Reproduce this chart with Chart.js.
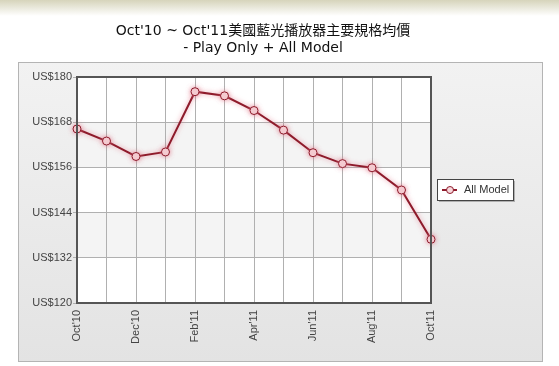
<!DOCTYPE html>
<html>
<head>
<meta charset="utf-8">
<script src="https://cdn.jsdelivr.net/npm/chart.js@4.4.0/dist/chart.umd.min.js"></script>
<style>
  html, body { margin: 0; padding: 0; background: #fff; }
  #wrap { position: relative; width: 559px; height: 366px; }
</style>
</head>
<body>
<div id="wrap"><canvas id="myChart" width="559" height="366"></canvas></div>
<script>
// Données du graphique
const mois = ["Oct'10", "Nov'10", "Dec'10", "Jan'11", "Feb'11", "Mar'11", "Apr'11",
              "May'11", "Jun'11", "Jul'11", "Aug'11", "Sep'11", "Oct'11"];
const prixMoyen = [166.2, 163.0, 158.9, 160.1, 176.1, 175.0, 171.1,
                   165.9, 159.9, 157.0, 155.9, 150.0, 136.9];
const nomSerie = 'All Model';
const titre = ["Oct'10 ~ Oct'11美國藍光播放器主要規格均價", '- Play Only + All Model'];
const yMin = 120, yMax = 180, yPas = 12;

const rouge = '#8e1b2b';
const rose = '#f7d8dc';

// Fond de page, panneau gris, bandes de la zone de tracé, titre
const fondPlugin = {
  id: 'fond',
  beforeDraw(chart) {
    const ctx = chart.ctx;
    const ca = chart.chartArea;
    ctx.save();
    let g = ctx.createLinearGradient(0, 0, 0, 16);
    g.addColorStop(0, '#d6d4bb');
    g.addColorStop(1, '#ffffff');
    ctx.fillStyle = g;
    ctx.fillRect(0, 0, 559, 16);

    // Titre
    ctx.fillStyle = '#111111';
    ctx.font = '14px "DejaVu Sans", "Noto Sans CJK TC", sans-serif';
    ctx.textAlign = 'center';
    ctx.textBaseline = 'middle';
    ctx.fillText(titre[0], 263, 31);
    ctx.fillText(titre[1], 263, 48);

    g = ctx.createLinearGradient(0, 62, 0, 362);
    g.addColorStop(0, '#f2f2f2');
    g.addColorStop(1, '#e3e3e3');
    ctx.fillStyle = g;
    ctx.fillRect(18.5, 62.5, 524, 299);
    ctx.strokeStyle = '#b4b4b4';
    ctx.lineWidth = 1;
    ctx.strokeRect(18.5, 62.5, 524, 299);

    const y = chart.scales.y;
    ctx.fillStyle = '#ffffff';
    ctx.fillRect(ca.left, ca.top, ca.right - ca.left, ca.bottom - ca.top);
    let i = 0;
    for (let v = yMax; v > yMin; v -= yPas) {
      if (i % 2 === 1) {
        const y1 = y.getPixelForValue(v), y2 = y.getPixelForValue(v - yPas);
        ctx.fillStyle = '#f4f4f4';
        ctx.fillRect(ca.left, y1, ca.right - ca.left, y2 - y1);
      }
      i++;
    }
    ctx.restore();
  },
  afterDatasetsDraw(chart) {
    const ctx = chart.ctx;
    const ca = chart.chartArea;
    ctx.save();
    ctx.strokeStyle = '#555555';
    ctx.lineWidth = 2;
    ctx.strokeRect(ca.left, ca.top, ca.right - ca.left, ca.bottom - ca.top);

    // Légende
    const lx = 437, ly = 179, lw = 76, lh = 21;
    ctx.fillStyle = 'rgba(0,0,0,0.25)';
    ctx.fillRect(lx + 2, ly + 2, lw, lh);
    ctx.fillStyle = '#ffffff';
    ctx.fillRect(lx, ly, lw, lh);
    ctx.strokeStyle = '#444444';
    ctx.lineWidth = 1;
    ctx.strokeRect(lx + 0.5, ly + 0.5, lw, lh);
    const my = ly + lh / 2 + 0.5;
    ctx.strokeStyle = rouge;
    ctx.lineWidth = 2;
    ctx.beginPath();
    ctx.moveTo(lx + 5, my);
    ctx.lineTo(lx + 20, my);
    ctx.stroke();
    ctx.fillStyle = rose;
    ctx.lineWidth = 1;
    ctx.beginPath();
    ctx.arc(lx + 13, my, 3.5, 0, Math.PI * 2);
    ctx.fill();
    ctx.stroke();
    ctx.fillStyle = '#333333';
    ctx.font = '11px "Liberation Sans", Arial, sans-serif';
    ctx.textBaseline = 'middle';
    ctx.fillText(nomSerie, lx + 27, my);
    ctx.restore();
  }
};

// Ombre rosée sous la courbe
const ombrePlugin = {
  id: 'ombre',
  beforeDatasetDraw(chart) {
    const ctx = chart.ctx;
    ctx.save();
    ctx.shadowColor = 'rgba(225,110,130,0.7)';
    ctx.shadowBlur = 5;
  },
  afterDatasetDraw(chart) {
    chart.ctx.restore();
  }
};

const ctx = document.getElementById('myChart').getContext('2d');
const myChart = new Chart(ctx, {
  type: 'line',
  data: {
    labels: mois,
    datasets: [{
      label: nomSerie,
      data: prixMoyen,
      borderColor: rouge,
      borderWidth: 2,
      backgroundColor: rose,
      pointBackgroundColor: rose,
      pointBorderColor: rouge,
      pointBorderWidth: 1,
      pointRadius: 4,
      tension: 0,
      clip: false
    }]
  },
  plugins: [fondPlugin, ombrePlugin],
  options: {
    responsive: false,
    animation: false,
    layout: { padding: { left: 0, right: 128, top: 77, bottom: 0 } },
    plugins: {
      legend: { display: false },
      tooltip: { enabled: false },
      title: { display: false }
    },
    scales: {
      x: {
        offset: false,
        grid: { color: '#b0b0b0', drawTicks: false, lineWidth: 1 },
        border: { display: false },
        afterFit(scale) { scale.height = 63; },
        ticks: {
          autoSkip: false,
          maxRotation: 90,
          minRotation: 90,
          padding: 7,
          color: '#444444',
          font: { family: '"Liberation Sans", Arial, sans-serif', size: 11 },
          callback(v, i) { return i % 2 === 0 ? mois[i] : ''; }
        }
      },
      y: {
        min: yMin,
        max: yMax,
        grid: { color: '#b0b0b0', drawTicks: true, tickLength: 4, lineWidth: 1 },
        border: { display: false },
        afterFit(scale) { scale.width = 77; },
        ticks: {
          stepSize: yPas,
          padding: 1,
          color: '#444444',
          font: { family: '"Liberation Sans", Arial, sans-serif', size: 11 },
          callback(v) { return 'US$' + v; }
        }
      }
    }
  }
});
</script>
</body>
</html>
